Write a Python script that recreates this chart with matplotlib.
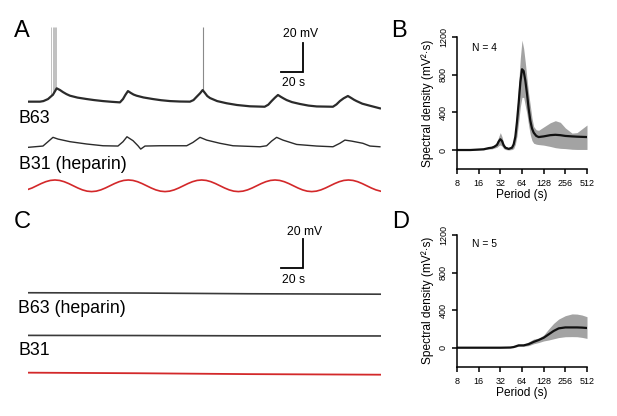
import numpy as np
import matplotlib

matplotlib.use("Agg")
import matplotlib.pyplot as plt

plt.rcParams["font.family"] = ["Liberation Sans", "DejaVu Sans"]

# ---- panel A traces (time in s, voltage in mV relative to each trace baseline)
b63_t = [0, 10.9, 14, 18.2, 22.7, 26.1, 29.1, 31.8, 35, 38.2, 45, 53.4, 60, 68.2,
         76, 83.6, 86.4, 88.5, 90.9, 93.5, 96, 98.8, 105, 113.6, 121, 129.1, 138,
         147.3, 150.5, 153.4, 156.5, 158.8, 160.9, 163, 165.5, 172, 180.6, 190,
         201.8, 215.2, 218.5, 221.5, 224.5, 227.3, 230, 232.5, 235.2, 240, 247.3,
         255, 262.5, 277.3, 280.5, 283.6, 287, 290.9, 294, 296.5, 298.8, 304,
         310.9, 320]
b63_v = [3.7, 3.7, 4.1, 5.5, 8.5, 12.9, 11.7, 10.3, 8.9, 7.8, 6.5, 5.5, 4.8, 4.1,
         3.6, 3.2, 5.5, 8.3, 11.0, 9.7, 8.6, 7.8, 6.6, 5.5, 4.7, 4.1, 3.8,
         3.7, 4.8, 7.1, 9.5, 11.7, 9.7, 7.6, 6.2, 4.1, 2.6, 1.4,
         0.5, 0.2, 1.6, 4.1, 6.4, 8.3, 7.0, 5.9, 4.8, 3.4, 2.1,
         1.0, 0.4, 0.2, 1.8, 4.1, 6.0, 7.6, 6.2, 5.0, 4.1, 2.3,
         0.9, -0.9]
spike_t = [21.3, 22.4, 23.5, 24.6, 25.7, 159.1]
spike_peak = 55.2

b31_t = [0, 13.6, 18.2, 22.7, 27.3, 38.2, 53.4, 68.2, 81.8, 86.4, 90.0, 95.5, 100,
         102.5, 106.4, 120, 144.3, 150, 156.4, 162.5, 174.5, 186.4, 210.9, 217,
         221.5, 226.1, 231.8, 244.3, 262.5, 277.3, 283.6, 288.2, 294.3, 304.5, 310.9, 320]
b31_v = [-0.2, 0.7, 3.7, 6.7, 5.5, 3.7, 2.1, 0.9, 0.7, 3.7, 7.1, 4.4, 0.9,
         -1.4, 0.7, 0.9, 0.9, 3.2, 6.7, 4.8, 2.6, 0.9, 0.2, 0.9,
         4.1, 6.7, 4.8, 1.8, 0.7, 0.2, 2.6, 4.8, 4.1, 2.6, 0.7, 0.2]

ref_t = [0, 3.65, 7.82, 11.99, 16.16, 20.33, 24.5, 28.67, 32.84, 37.01, 41.18,
         45.35, 49.52, 53.69, 57.86, 62.03, 66.2, 70.37, 74.54, 78.71, 82.88,
         87.05, 91.22, 95.39, 99.56, 103.73, 107.9, 112.07, 116.24, 120.41,
         124.58, 128.75, 132.92, 137.09, 141.26, 145.43, 149.6, 153.77, 157.94,
         162.11, 166.28, 170.45, 174.62, 178.79, 182.96, 187.13, 191.3, 195.47,
         199.64, 203.81, 207.98, 212.15, 216.32, 220.49, 224.66, 228.83, 233.0,
         237.17, 241.34, 245.51, 249.68, 253.85, 258.02, 262.19, 266.36, 270.53,
         274.7, 278.87, 283.04, 287.21, 291.38, 295.55, 299.72, 303.89, 308.06,
         312.23, 316.4, 320.57]
ref_v = [-2.5, -1.53, 0, 1.53, 2.83, 3.7, 4, 3.7, 2.83, 1.53, 0,
         -1.53, -2.83, -3.7, -4, -3.7, -2.83, -1.53, 0, 1.53, 2.83,
         3.7, 4, 3.7, 2.83, 1.53, 0, -1.53, -2.83, -3.7,
         -4, -3.7, -2.83, -1.53, 0, 1.53, 2.83, 3.7, 4,
         3.7, 2.83, 1.53, 0, -1.53, -2.83, -3.7, -4, -3.7,
         -2.83, -1.53, 0, 1.53, 2.83, 3.7, 4, 3.7, 2.83,
         1.53, 0, -1.53, -2.83, -3.7, -4, -3.7, -2.83, -1.53,
         0, 1.53, 2.83, 3.7, 4, 3.7, 2.83, 1.53, 0,
         -1.53, -2.83, -3.7]

# ---- panel C traces
flat_t = [0, 100, 200, 321]
b63h_v = [0.5, 0.3, -0.2, -0.5]
b31c_v = [0.2, 0.1, -0.1, -0.2]
refc_v = [0.7, 0.3, -0.3, -0.7]

# ---- panel B spectrum (period s, mV^2.s)
per_b = [8, 12.3, 18.8, 22.0, 24.5, 26.4, 28.8, 30.3, 32, 33.8, 35.6, 37.6, 41.8,
         46.5, 49.0, 51.7, 54.5, 57.5, 60.7, 64, 67.5, 71.2, 75.1, 79.2, 83.6,
         88.1, 93, 101, 109, 128, 158, 186, 218, 256, 317, 372, 512]
mean_b = [0, 0, 8, 20, 25, 35, 55, 90, 115, 95, 50, 25, 12,
          25, 60, 140, 300, 500, 720, 860, 840, 740, 600, 440, 310,
          230, 185, 150, 138, 145, 158, 162, 158, 150, 145, 142, 138]
upper_b = [3, 4, 15, 30, 40, 50, 85, 140, 185, 140, 70, 35, 22,
           40, 110, 220, 420, 700, 980, 1170, 1080, 930, 760, 600, 470,
           340, 250, 215, 210, 245, 290, 312, 295, 235, 180, 185, 266]
lower_b = [-3, -3, 2, 10, 12, 20, 30, 45, 55, 40, 15, 5, 0,
           5, 15, 60, 150, 300, 460, 560, 560, 470, 380, 260, 160,
           100, 72, 62, 58, 52, 38, 25, 18, 15, 8, 6, 6]

# ---- panel D spectrum
per_d = [8, 18.8, 32, 44, 49, 57.5, 67.5, 79.2, 93, 109, 128, 150, 176, 207,
         256, 317, 372, 436, 512]
mean_d = [0, 0, 0, 2, 7, 25, 25, 38, 62, 82, 106, 142, 178, 206,
          216, 216, 216, 214, 210]
upper_d = [1, 1, 2, 4, 10, 32, 35, 62, 92, 102, 135, 199, 259, 305,
           341, 360, 358, 348, 330]
lower_d = [-1, -1, -1, 0, 3, 15, 15, 22, 42, 55, 72, 82, 95, 108,
           117, 118, 117, 110, 99]

period_ticks = [8, 16, 32, 64, 128, 256, 512]
density_ticks = [0, 400, 800, 1200]

W, H = 617, 416
fig = plt.figure(figsize=(W / 100, H / 100), dpi=100)


def px_axes(x0, y0, x1, y1):
    return fig.add_axes([x0 / W, 1 - y1 / H, (x1 - x0) / W, (y1 - y0) / H])


def px_text(x, y, s, size, ha="left"):
    fig.text(x / W, 1 - y / H, s, fontsize=size, ha=ha, va="baseline")


TRACE = "#2b2b2b"
RED = "#d3282a"

# panel A
axa = px_axes(28, 20, 381, 200)
axa.set_xlim(0, 321)
axa.set_ylim(-64.1, 60)
axa.axis("off")
base = np.interp(spike_t, b63_t, b63_v)
axa.vlines(spike_t[:-1], base[:-1], spike_peak, color="#b5b5b5", lw=0.6)
axa.vlines(spike_t[-1:], base[-1:], spike_peak, color="#8a8a8a", lw=0.8)
axa.plot(b63_t, b63_v, color=TRACE, lw=1.6)
axa.plot(b31_t, np.array(b31_v) - 27.6, color=TRACE, lw=1.0)
axa.plot(ref_t, np.array(ref_v) - 54.3, color=RED, lw=1.2)
axa.plot([230, 250, 250], [24.1, 24.1, 44.1], color="black", lw=1.3,
         solid_joinstyle="miter")

# panel C
axc = px_axes(28, 205, 381, 395)
axc.set_xlim(0, 321)
axc.set_ylim(-70.0, 61.0)
axc.axis("off")
axc.plot(flat_t, b63h_v, color="#3a3a3a", lw=1.2)
axc.plot(flat_t, np.array(b31c_v) - 29.1, color="#3a3a3a", lw=1.2)
axc.plot(flat_t, np.array(refc_v) - 55.3, color=RED, lw=1.3)
axc.plot([230, 250, 250], [17.6, 17.6, 37.6], color="black", lw=1.3,
         solid_joinstyle="miter")


def spectrum(ax, per, mean, lo, hi):
    ax.fill_between(per, lo, hi, color="#a3a3a3", lw=0)
    ax.plot(per, mean, color="#111111", lw=1.6)
    ax.set_xscale("log", base=2)
    ax.set_xlim(8, 512)
    ax.set_ylim(-200, 1200)
    ax.set_xticks(period_ticks)
    ax.set_xticklabels([str(p) for p in period_ticks])
    ax.minorticks_off()
    ax.set_yticks(density_ticks)
    ax.set_yticklabels([str(d) for d in density_ticks])
    for side in ("top", "right"):
        ax.spines[side].set_visible(False)
    for side in ("left", "bottom"):
        ax.spines[side].set_linewidth(1.1)
    ax.tick_params(axis="both", length=3.5, width=1.1, labelsize=6.5, pad=3)
    ax.tick_params(axis="x", pad=4)
    ax.tick_params(axis="y", labelrotation=90)
    for lbl in ax.get_yticklabels():
        lbl.set_va("center")
    ax.set_xlabel("Period (s)", fontsize=8.6)
    ax.xaxis.set_label_coords(0.5, -0.154)
    ax.set_ylabel("Spectral density (mV²·s)", fontsize=8.6)
    ax.yaxis.set_label_coords(-0.177, 0.5)


axb = px_axes(457, 37.3, 587, 168.8)
spectrum(axb, per_b, mean_b, lower_b, upper_b)
axd = px_axes(457, 235, 587, 366.5)
spectrum(axd, per_d, mean_d, lower_d, upper_d)

# texts
px_text(14, 37, "A", 17)
px_text(391, 37, "B", 17)
px_text(14, 228.5, "C", 17)
px_text(392, 228.5, "D", 17)
px_text(18, 123.3, "B63", 12.8)
px_text(19, 169, "B31 (heparin)", 12.8)
px_text(18, 313.3, "B63 (heparin)", 12.8)
px_text(18, 355, "B31", 12.8)
px_text(300.5, 37, "20 mV", 8.7, ha="center")
px_text(294, 86, "20 s", 8.7, ha="center")
px_text(304.5, 235, "20 mV", 8.7, ha="center")
px_text(294, 283, "20 s", 8.7, ha="center")
px_text(472, 50.7, "N = 4", 7.4)
px_text(472, 246.7, "N = 5", 7.4)

fig.savefig("out.png", dpi=100)
